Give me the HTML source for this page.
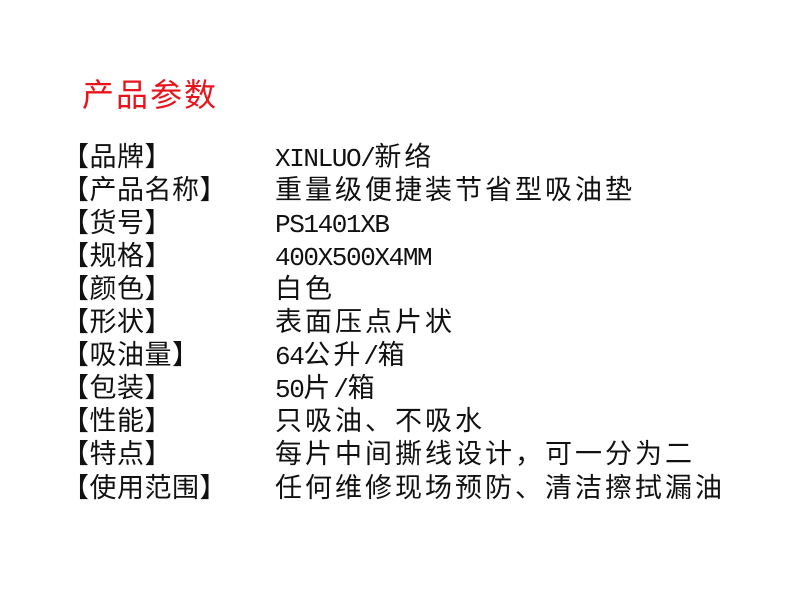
<!DOCTYPE html>
<html><head><meta charset="utf-8"><style>
html,body{margin:0;padding:0;background:#fff;}
body{width:800px;height:597px;position:relative;overflow:hidden;font-family:"Liberation Sans","WenQuanYi Zen Hei","Noto Sans CJK SC",sans-serif;color:#111;}
.t{position:absolute;left:82px;top:75px;font-size:32px;color:#e8141b;letter-spacing:2px;white-space:nowrap;line-height:40px;}
.r{position:absolute;left:70px;font-size:27px;line-height:33px;white-space:nowrap;}
.l{position:absolute;left:-8px;letter-spacing:0.5px;}
.v{position:absolute;left:205px;letter-spacing:3px;}
.m{font-family:"Liberation Mono",monospace;font-size:26px;letter-spacing:-1.4px;}
</style></head><body>
<div class="t">产品参数</div>
<div class="r" style="top:141px"><span class="l">【品牌】</span><span class="v"><span class="m">XINLUO/</span>新络</span></div>
<div class="r" style="top:174px"><span class="l">【产品名称】</span><span class="v">重量级便捷装节省型吸油垫</span></div>
<div class="r" style="top:207px"><span class="l">【货号】</span><span class="v"><span class="m">PS1401XB</span></span></div>
<div class="r" style="top:240px"><span class="l">【规格】</span><span class="v"><span class="m">400X500X4MM</span></span></div>
<div class="r" style="top:273px"><span class="l">【颜色】</span><span class="v">白色</span></div>
<div class="r" style="top:306px"><span class="l">【形状】</span><span class="v">表面压点片状</span></div>
<div class="r" style="top:339px"><span class="l">【吸油量】</span><span class="v"><span class="m">64</span>公升<span class="m">/</span>箱</span></div>
<div class="r" style="top:372px"><span class="l">【包装】</span><span class="v"><span class="m">50</span>片<span class="m">/</span>箱</span></div>
<div class="r" style="top:405px"><span class="l">【性能】</span><span class="v">只吸油、不吸水</span></div>
<div class="r" style="top:438px"><span class="l">【特点】</span><span class="v">每片中间撕线设计，可一分为二</span></div>
<div class="r" style="top:472px"><span class="l">【使用范围】</span><span class="v">任何维修现场预防、清洁擦拭漏油</span></div>
</body></html>
